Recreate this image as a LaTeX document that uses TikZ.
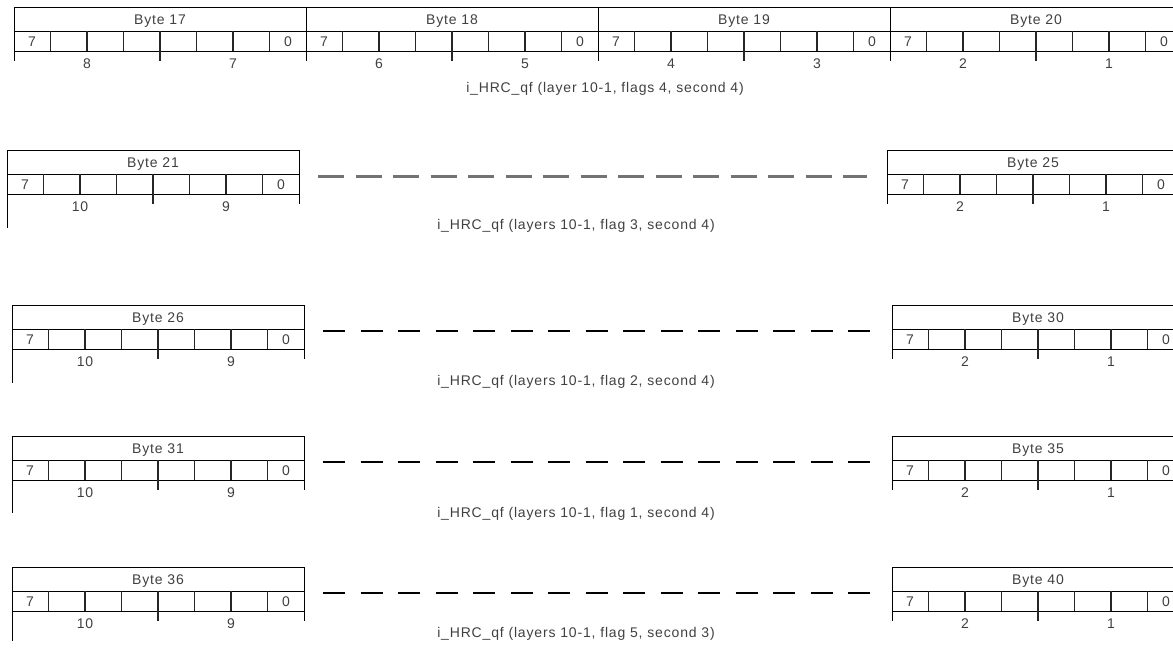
\documentclass[tikz,border=0pt]{standalone}
\usepackage{fontspec}
\setmainfont{Liberation Sans}[LetterSpace=6.0]
\usepackage{tikz}
\usetikzlibrary{positioning}

% one byte: #1 name, #2 x, #3 top, #4 number, #5/#6 field labels, #7 left edge below
\newcommand{\bytebox}[7]{%
  \draw[Box] (#2,#3) -- ++(292,0);
  \draw[Box] (#2,#3+24) -- ++(292,0);
  \draw[Box] (#2,#3+44) -- ++(292,0);
  \draw[Box] (#2,#3) -- ++(0,44+#7);
  \draw[Box] (#2+292,#3) -- ++(0,54);
  \foreach \k in {1,...,7} {\draw[Bit] (#2+36.5*\k,#3+24) -- ++(0,20);}
  \draw[Bit] (#2+146,#3+44) -- ++(0,10);
  \node[Label] (#1-hd) at (#2+146,#3+17) {Byte #4};
  \node[Label] (#1-b7) at (#2+18,#3+39) {7};
  \node[Label] (#1-b0) at (#2+274,#3+39) {0};
  \node[Label] (#1-hi) at (#2+73,#3+61) {#5};
  \node[Label] (#1-lo) at (#2+219,#3+61) {#6};
  \coordinate (#1-e) at (#2+292,#3+26);
  \coordinate (#1-w) at (#2,#3+26);
}

\begin{document}
\begin{tikzpicture}
  [
    x=1pt, y=-1pt,
    Box/.style={draw=black, line width=1pt},
    Bit/.style={draw=black!85, line width=1.3pt},
    Label/.style={anchor=base, inner sep=0pt, text=black!75, font=\fontsize{14}{16}\selectfont},
    ThickDash/.style={draw=black!55, line width=3pt, dash pattern=on 26pt off 11.5pt},
    ThinDash/.style={draw=black, line width=1.3pt, dash pattern=on 22pt off 15.5pt}
  ]
  \clip (0,0) rectangle (1173,648);

  % Bytes
  \bytebox{b17}{14}{7}{17}{8}{7}{10}
  \bytebox{b18}{306}{7}{18}{6}{5}{10}
  \bytebox{b19}{598}{7}{19}{4}{3}{10}
  \bytebox{b20}{890}{7}{20}{2}{1}{10}

  \bytebox{b21}{7}{150}{21}{10}{9}{34}
  \bytebox{b25}{887}{150}{25}{2}{1}{10}

  \bytebox{b26}{12}{305}{26}{10}{9}{34}
  \bytebox{b30}{892}{305}{30}{2}{1}{10}

  \bytebox{b31}{12}{436}{31}{10}{9}{33}
  \bytebox{b35}{892}{436}{35}{2}{1}{10}

  \bytebox{b36}{12}{567}{36}{10}{9}{30}
  \bytebox{b40}{892}{567}{40}{2}{1}{10}

  % Titles
  \node[Label] (t1) at (605,92) {i\_HRC\_qf (layer 10-1, flags 4, second 4)};
  \node[Label] (t2) at (576,229) {i\_HRC\_qf (layers 10-1, flag 3, second 4)};
  \node[Label] (t3) at (576,385) {i\_HRC\_qf (layers 10-1, flag 2, second 4)};
  \node[Label] (t4) at (576,517) {i\_HRC\_qf (layers 10-1, flag 1, second 4)};
  \node[Label] (t5) at (576,637) {i\_HRC\_qf (layers 10-1, flag 5, second 3)};

  % Gaps
  \draw[ThickDash] ([xshift=19pt]b21-e) -- ([xshift=-20pt]b25-w);
  \draw[ThinDash] ([xshift=19pt]b26-e) -- ([xshift=-20pt]b30-w);
  \draw[ThinDash] ([xshift=19pt]b31-e) -- ([xshift=-20pt]b35-w);
  \draw[ThinDash] ([xshift=19pt]b36-e) -- ([xshift=-20pt]b40-w);

\end{tikzpicture}
\end{document}
